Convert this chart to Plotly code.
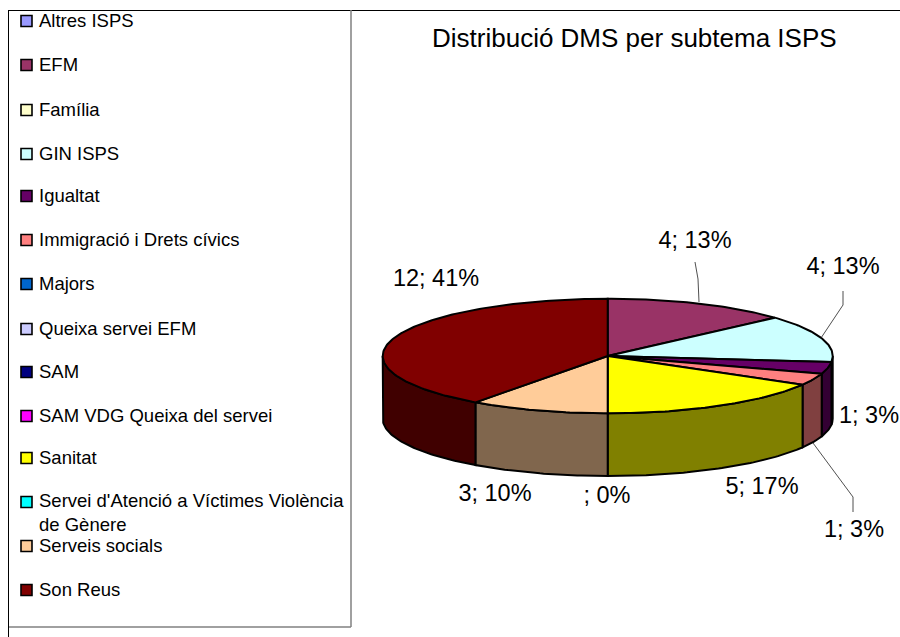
import numpy as np
import plotly.graph_objects as go

categories = ["Altres ISPS", "EFM", "Família", "GIN ISPS", "Igualtat", "Immigració i Drets cívics", "Majors",
              "Queixa servei EFM", "SAM", "SAM VDG Queixa del servei", "Sanitat",
              "Servei d'Atenció a Víctimes Violència<br>de Gènere", "Serveis socials", "Son Reus"]
values = [0, 4, 0, 4, 1, 1, 0, 0, 0, 0, 5, 0, 3, 12]
colors = ["#9999FF", "#993366", "#FFFFCC", "#CCFFFF", "#660066", "#FF8080", "#0066CC",
          "#CCCCFF", "#000080", "#FF00FF", "#FFFF00", "#00FFFF", "#FFCC99", "#800000"]
side_colors = ["#4D4D80", "#4D1A33", "#808066", "#668080", "#330033", "#804040", "#003366",
               "#666680", "#000040", "#800080", "#808000", "#008080", "#80664D", "#400000"]

data_labels = ["4; 13%", "4; 13%", "1; 3%", "1; 3%", "5; 17%", "; 0%", "3; 10%", "12; 41%"]
label_x = [695, 843, 869, 854, 762, 607, 495, 436]
label_y = [242, 268, 417, 531, 488, 497, 495, 280]

legend_y = [20, 64, 109, 153, 195, 239, 283, 328, 371, 415, 457, 512, 545, 589]
legend_marker_y = [21, 65, 110, 154, 196, 240, 284, 329, 372, 416, 458, 502, 546, 590]

leader_lines = [([695, 698, 699], [262, 279, 302]),
                ([843, 843, 821], [291, 305, 338]),
                ([853, 853, 813], [512, 497, 443])]

CX, CY, RX, RY, DEPTH = 607.7, 356, 225, 57.3, 62.7
EDGE = "#000000"

fig = go.Figure()


def arc(a0, a1, dy=0):
    n = max(2, int(abs(a1 - a0) / 1.0) + 2)
    t = np.radians(np.linspace(a0, a1, n))
    return CX + RX * np.sin(t), CY - RY * np.cos(t) + dy


def poly(x, y, fill):
    fig.add_trace(go.Scatter(x=list(x), y=list(y), mode="lines", fill="toself", fillcolor=fill,
                             line=dict(color=EDGE, width=2), hoverinfo="skip", showlegend=False))


total = sum(values)
angles = np.concatenate([[0], np.cumsum(values)]) * 360 / total
slices = [(angles[i], angles[i + 1], i) for i in range(len(values)) if values[i] > 0]

# Sides (only the front half of the disc is visible)
for a0, a1, i in slices:
    s0, s1 = max(a0, 90), min(a1, 270)
    if s1 > s0:
        xt, yt = arc(s0, s1)
        xb, yb = arc(s1, s0, DEPTH)
        poly(np.r_[xt, xb, xt[0]], np.r_[yt, yb, yt[0]], side_colors[i])

# Top surface
for a0, a1, i in slices:
    xa, ya = arc(a0, a1)
    poly(np.r_[CX, xa, CX], np.r_[CY, ya, CY], colors[i])

# Leader lines
for lx, ly in leader_lines:
    fig.add_trace(go.Scatter(x=lx, y=ly, mode="lines", line=dict(color="#222222", width=0.8),
                             hoverinfo="skip", showlegend=False))

# Data labels
fig.add_trace(go.Scatter(x=label_x, y=label_y, mode="text", text=data_labels, textposition="middle center",
                         textfont=dict(family="Liberation Sans", size=23.5, color="#000000"),
                         hoverinfo="skip", showlegend=False, cliponaxis=False))

# Legend keys
fig.add_trace(go.Scatter(x=[26.5] * len(categories), y=legend_marker_y, mode="markers",
                         marker=dict(symbol="square", size=11, color=colors, line=dict(color="#000000", width=1.6)),
                         hoverinfo="skip", showlegend=False))

for name, y in zip(categories, legend_y):
    fig.add_annotation(x=37, y=y, xref="x", yref="y", text=name, showarrow=False, xanchor="left",
                       yanchor="middle", align="left",
                       font=dict(family="Liberation Sans", size=18.5, color="#000000"))

fig.add_annotation(x=634.5, y=38, xref="x", yref="y", text="Distribució DMS per subtema ISPS", showarrow=False,
                   xanchor="center", yanchor="middle", font=dict(family="Liberation Sans", size=26, color="#000000"))

line_black = dict(color="#000000", width=1)
line_grey = dict(color="#808080", width=1.5)
fig.update_layout(
    width=900, height=637, autosize=False, margin=dict(l=0, r=0, t=0, b=0),
    paper_bgcolor="#FFFFFF", plot_bgcolor="#FFFFFF",
    xaxis=dict(range=[0, 900], visible=False, fixedrange=True),
    yaxis=dict(range=[637, 0], visible=False, fixedrange=True),
    shapes=[
        dict(type="line", xref="x", yref="y", x0=9, y0=10.5, x1=900, y1=10.5, line=line_black),
        dict(type="line", xref="x", yref="y", x0=8.5, y0=10, x1=8.5, y1=637, line=line_black),
        dict(type="line", xref="x", yref="y", x0=351, y0=10, x1=351, y1=627, line=line_grey),
        dict(type="line", xref="x", yref="y", x0=9, y0=627, x1=351, y1=627, line=line_grey),
    ],
)

fig.write_html("out.html", config=dict(displayModeBar=False),
               post_script="document.body.style.margin='0';document.body.style.overflow='hidden';")
